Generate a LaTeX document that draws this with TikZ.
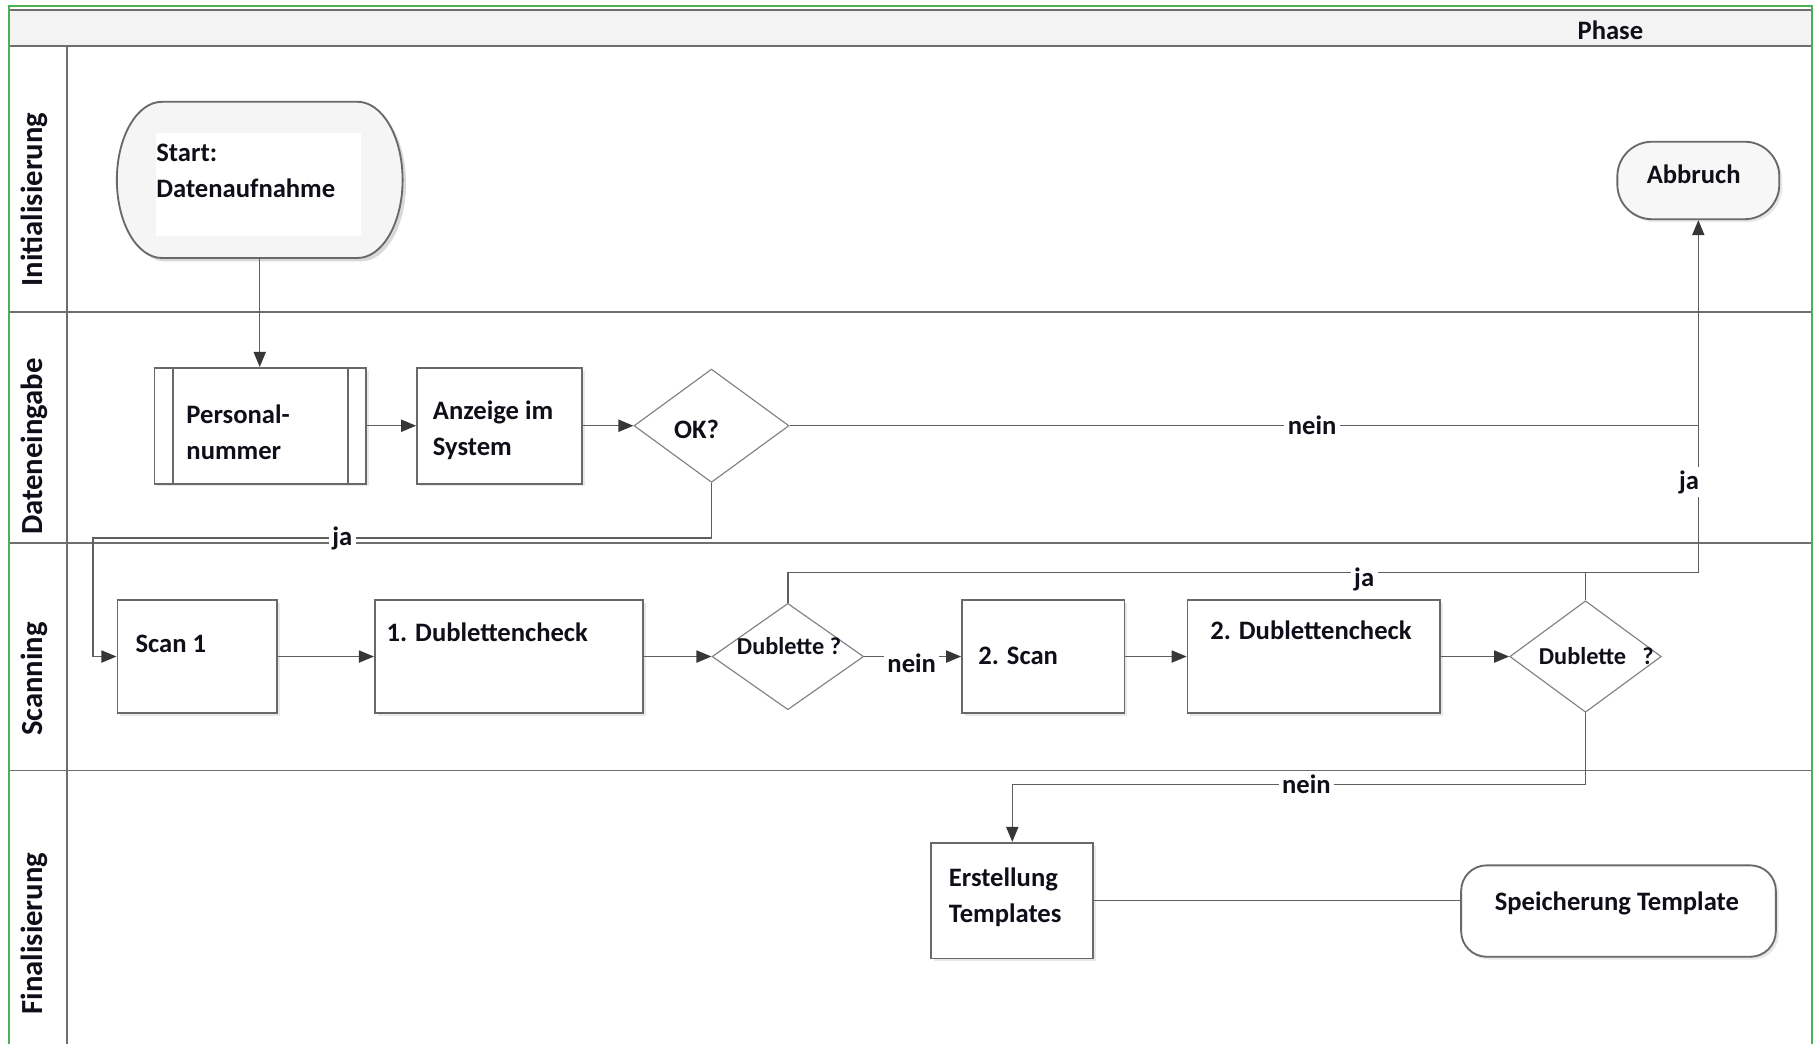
\documentclass[tikz,border=0pt]{standalone}
\usepackage{fontspec}
\setmainfont{Carlito}
\usetikzlibrary{shapes.geometric,arrows.meta,shadows}
\definecolor{frame}{RGB}{76,175,80}
\definecolor{lanegray}{RGB}{110,110,110}
\definecolor{boxgray}{RGB}{105,105,105}
\definecolor{linegray}{RGB}{95,95,95}
\definecolor{tipgray}{RGB}{55,55,55}
\definecolor{dmdgray}{RGB}{130,130,130}
\definecolor{txtcol}{RGB}{15,15,25}
\definecolor{headfill}{RGB}{243,243,243}
\begin{document}
\begin{tikzpicture}[x=1pt,y=-1pt,
  nodefont/.style={font=\fontsize{23}{27}\selectfont\bfseries},
  txt/.style={nodefont, text=txtcol, inner sep=0pt},
  lanetxt/.style={font=\fontsize{26.5}{30}\selectfont\bfseries, text=txtcol, inner sep=0pt, rotate=90},
  dtxt/.style={font=\fontsize{21}{25}\selectfont\bfseries, text=txtcol, inner sep=0pt},
  lbl/.style={nodefont, text=txtcol, fill=white, inner sep=3pt},
  lane/.style={draw=lanegray, line width=1.6pt},
  procbox/.style={draw=boxgray, line width=1.6pt, fill=white, inner sep=0pt,
    drop shadow={opacity=0.18, shadow xshift=2.5pt, shadow yshift=-2.5pt}},
  term/.style={procbox, fill=black!3},
  dec/.style={diamond, draw=dmdgray, line width=1pt, fill=white, inner sep=0pt},
  conn/.style={draw=linegray, line width=1.3pt},
  arr/.style={-{Triangle[length=13pt,width=10.5pt,color=tipgray]}},
]
\useasboundingbox (0,0) rectangle (1568,901.6);
% header
\fill[headfill] (8,8) rectangle (1566,40);
\draw[lane] (8,8.5) -- (1566,8.5);
\draw[lane] (8,40) -- (1566,40);
\node[txt] (phase) at (1392,26) {Phase};
% lanes
\draw[lane] (8,270) -- (1566,270);
\draw[lane] (8,469) -- (1566,469);
\draw[lane] (8,666) -- (1566,666);
\draw[lane] (58,40) -- (58,905);
\draw[frame, line width=1.6pt] (8,905) -- (8,5.5) -- (1566,5.5) -- (1566,905);
\node[lanetxt] (lane1) at (30,172.5) {Initialisierung};
\node[lanetxt] (lane2) at (30,386) {Dateneingabe};
\node[lanetxt] (lane3) at (30,587) {Scanning};
\node[lanetxt] (lane4) at (30,807) {Finalisierung};
% start terminator (elliptic ends)
\node[inner sep=0pt, minimum width=248pt, minimum height=135pt] (start) at (224.5,155.5) {};
\fill[black, opacity=0.15] (143,91) -- (312,91) .. controls (333.5,91) and (351,121.2) .. (351,158.5)
  .. controls (351,195.8) and (333.5,226) .. (312,226) -- (143,226)
  .. controls (121.5,226) and (104,195.8) .. (104,158.5) .. controls (104,121.2) and (121.5,91) .. (143,91) -- cycle;
\draw[draw=boxgray, line width=1.6pt, fill=black!4] (140,88) -- (309,88) .. controls (330.5,88) and (348,118.2) .. (348,155.5)
  .. controls (348,192.8) and (330.5,223) .. (309,223) -- (140,223)
  .. controls (118.5,223) and (101,192.8) .. (101,155.5) .. controls (101,118.2) and (118.5,88) .. (140,88) -- cycle;
\fill[white] (135,115) rectangle (312,204);
% other nodes
\node[term, rounded corners=30pt, minimum width=140pt, minimum height=67pt] (abb) at (1468,156) {};
\node[procbox, minimum width=183pt, minimum height=100pt] (pers) at (225,368) {};
\draw[draw=boxgray, line width=1.6pt] ([xshift=16.5pt]pers.north west) -- ([xshift=16.5pt]pers.south west);
\draw[draw=boxgray, line width=1.6pt] ([xshift=-16.5pt]pers.north east) -- ([xshift=-16.5pt]pers.south east);
\node[procbox, minimum width=142.5pt, minimum height=100pt] (anz) at (431.75,368) {};
\node[dec, minimum width=134pt, minimum height=98pt] (ok) at (615,368) {};
\node[procbox, minimum width=138pt, minimum height=98pt] (scan1) at (170.5,567.5) {};
\node[procbox, minimum width=231.6pt, minimum height=98pt] (dub1) at (439.8,567.5) {};
\node[dec, minimum width=131pt, minimum height=92pt] (d1) at (681,567.5) {};
\node[procbox, minimum width=140.4pt, minimum height=98pt] (scan2) at (901.8,567.5) {};
\node[procbox, minimum width=218.5pt, minimum height=98pt] (dub2) at (1135.75,567.5) {};
\node[dec, minimum width=131pt, minimum height=96.4pt] (d2) at (1370.5,567.5) {};
\node[procbox, minimum width=140pt, minimum height=100pt] (erst) at (875,778.5) {};
\node[term, fill=white, rounded corners=22pt, minimum width=272pt, minimum height=79pt] (speich) at (1399,787.5) {};
% texts
\node[txt, anchor=mid west] (tstart1) at (135,137) {Start:};
\node[txt, anchor=mid west] (tstart2) at (135,168.7) {Datenaufnahme};
\node[txt, anchor=mid] (tabb) at (1464,156) {Abbruch};
\node[txt, anchor=mid west] (tpers1) at (161,363.6) {Personal-};
\node[txt, anchor=mid west] (tpers2) at (161,394.7) {nummer};
\node[txt, anchor=mid west] (tanz1) at (374,360) {Anzeige im};
\node[txt, anchor=mid west] (tanz2) at (374,391) {System};
\node[txt, anchor=mid] (tok) at (602,377) {OK?};
\node[txt, anchor=mid west] (tscan1) at (117,562) {Scan 1};
\node[txt, anchor=mid west] (tdub1) at (334,552) {1. Dublettencheck};
\node[dtxt, anchor=mid] (td1) at (682,563) {Dublette ?};
\node[txt, anchor=mid west] (tscan2) at (845.5,572) {2. Scan};
\node[txt, anchor=mid west] (tdub2) at (1046,550) {2. Dublettencheck};
\node[dtxt, anchor=mid west] (td2) at (1330,572) {Dublette\hspace{14pt}?};
\node[txt, anchor=mid west] (terst1) at (820,763.6) {Erstellung};
\node[txt, anchor=mid west] (terst2) at (820,795) {Templates};
\node[txt, anchor=mid] (tspeich) at (1397.6,785) {Speicherung Template};
% connectors
\draw[conn,arr] (start.south) -- (start.south |- pers.north);
\draw[conn,arr] (pers.east) -- (anz.west);
\draw[conn,arr] (anz.east) -- (ok.west);
\coordinate (cNein) at (abb.south |- ok.east);
\draw[conn] (ok.east) -- node[lbl,pos=0.575] (lnein1) {nein} (cNein);
\coordinate (cJaY) at (0,495);
\draw[conn,arr] (d1.north) -- (d1.north |- cJaY) -- node[lbl,pos=0.633,yshift=-6pt] (lja2) {ja} (abb.south |- cJaY) -- node[lbl,pos=0.257,xshift=-8pt] (lja3) {ja} (abb.south);
\draw[conn] (d2.north) -- (d2.north |- cJaY);
\coordinate (cJaL) at (80.5,465);
\draw[conn,arr] (ok.south) -- (ok.south |- cJaL) -- node[lbl,pos=0.597] (lja1) {ja} (cJaL) |- (scan1.west);
\draw[conn,arr] (scan1.east) -- (dub1.west);
\draw[conn,arr] (dub1.east) -- (d1.west);
\draw[conn,arr] (d1.east) -- node[lbl,pos=0.49,yshift=-6pt] (lnein2) {nein} (scan2.west);
\draw[conn,arr] (scan2.east) -- (dub2.west);
\draw[conn,arr] (dub2.east) -- (d2.west);
\coordinate (cNeinY) at (0,678);
\draw[conn,arr] (d2.south) -- (d2.south |- cNeinY) -- node[lbl,pos=0.487] (lnein3) {nein} (erst.north |- cNeinY) -- (erst.north);
\draw[conn] (erst.east) -- (erst.east -| speich.west);
\end{tikzpicture}
\end{document}
